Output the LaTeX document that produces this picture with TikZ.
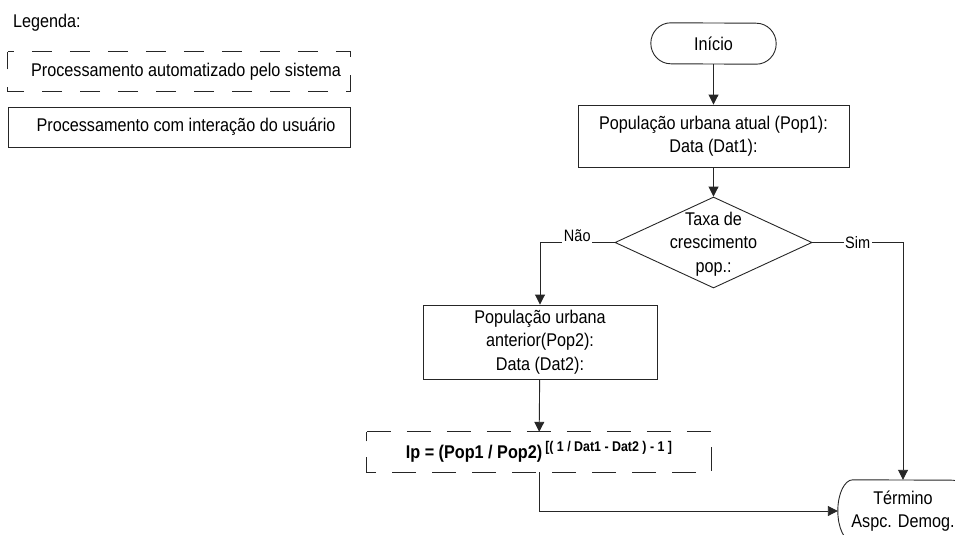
\documentclass[tikz,border=0pt]{standalone}
\usepackage{fontspec}
\setmainfont{Liberation Sans}[FakeStretch=0.88]
\usetikzlibrary{shapes.geometric,arrows.meta}
\begin{document}
\begin{tikzpicture}[x=1pt,y=1pt,
  font=\fontsize{18.4}{23.5}\selectfont,
  line/.style={draw=black!85, line width=0.9pt},
  flow/.style={line, -{Triangle[length=10pt,width=10pt]}},
  userbox/.style={line, rectangle, inner sep=0pt, align=center},
  autobox/.style={rectangle, inner sep=0pt, align=center},
  autoline/.style={line, dash pattern=on 24pt off 16pt},
  legline/.style={line, dash pattern=on 20pt off 18pt, dash phase=14pt},
  decision/.style={line, diamond, inner sep=0pt},
  plain/.style={inner sep=0pt, align=center},
  lbl/.style={fill=white, inner sep=1.5pt, font=\fontsize{16.5}{18}\selectfont},
  terminal/.style={inner sep=0pt, align=center}
]
\useasboundingbox (0,0) rectangle (955,-535);
\clip (0,0) rectangle (955,-535);

% legend
\node[plain, anchor=base west] (legtitle) at (13,-28) {Legenda:};
\node[autobox, minimum width=342pt, minimum height=39pt] (legauto) at (179,-71.5)
  {\hspace*{14pt}Processamento automatizado pelo sistema};
\draw[legline] (legauto.north west) -- (legauto.north east)
  -- (legauto.south east) -- (legauto.south west) -- cycle;
\node[userbox, minimum width=342pt, minimum height=40pt] (leguser) at (179,-127)
  {\hspace*{14pt}Processamento com interação do usuário};

% start terminal
\node[terminal, minimum width=125pt, minimum height=41pt] (ini) at (713.5,-43.5) {Início};
\draw[line] ([xshift=20pt]ini.north west)
  arc[start angle=90, end angle=270, x radius=20pt, y radius=20.5pt]
  -- ([xshift=-20pt]ini.south east)
  arc[start angle=-90, end angle=90, x radius=20pt, y radius=20.5pt] -- cycle;

% current population
\node[userbox, minimum width=271pt, minimum height=62pt] (pop1) at (713.5,-136)
  {População urbana atual (Pop1):\\Data (Dat1):};

% growth rate decision
\node[decision, minimum width=197pt, minimum height=91pt] (dec) at (713.5,-242.5) {};
\node[plain] (dectext) at (713.5,-244) {Taxa de\\crescimento\\pop.:};

% previous population
\node[userbox, minimum width=234pt, minimum height=74pt] (pop2) at (540,-342)
  {População urbana\\anterior(Pop2):\\Data (Dat2):};

% automatic formula
\node[autobox, minimum width=344pt, minimum height=40pt] (calc) at (539,-452)
  {\bfseries Ip = (Pop1 / Pop2)\,\raisebox{7pt}{\fontsize{14.1}{15}\selectfont\bfseries [( 1 / Dat1 - Dat2 ) - 1 ]}};
\draw[autoline] (calc.north west) -- (calc.north east)
  -- (calc.south east) -- (calc.south west) -- cycle;

% end terminal
\node[terminal, minimum width=130pt, minimum height=62pt] (term) at (903,-511)
  {Término\\Aspc. Demog.};
\draw[line] ([xshift=15pt]term.north west)
  arc[start angle=90, end angle=270, x radius=15pt, y radius=31pt]
  -- ([xshift=-15pt]term.south east)
  arc[start angle=-90, end angle=90, x radius=15pt, y radius=31pt] -- cycle;

% connectors
\draw[flow] (ini) -- (pop1);
\draw[flow] (pop1) -- (dec);
\draw[flow] (dec.west) -| node[lbl, pos=0.25, yshift=7pt] {Não} (pop2.north);
\draw[flow] (dec.east) -| node[lbl, pos=0.25] {Sim} (term.north);
\draw[flow] (pop2) -- (calc);
\draw[flow] (calc.south) |- (term.west);
\end{tikzpicture}
\end{document}
